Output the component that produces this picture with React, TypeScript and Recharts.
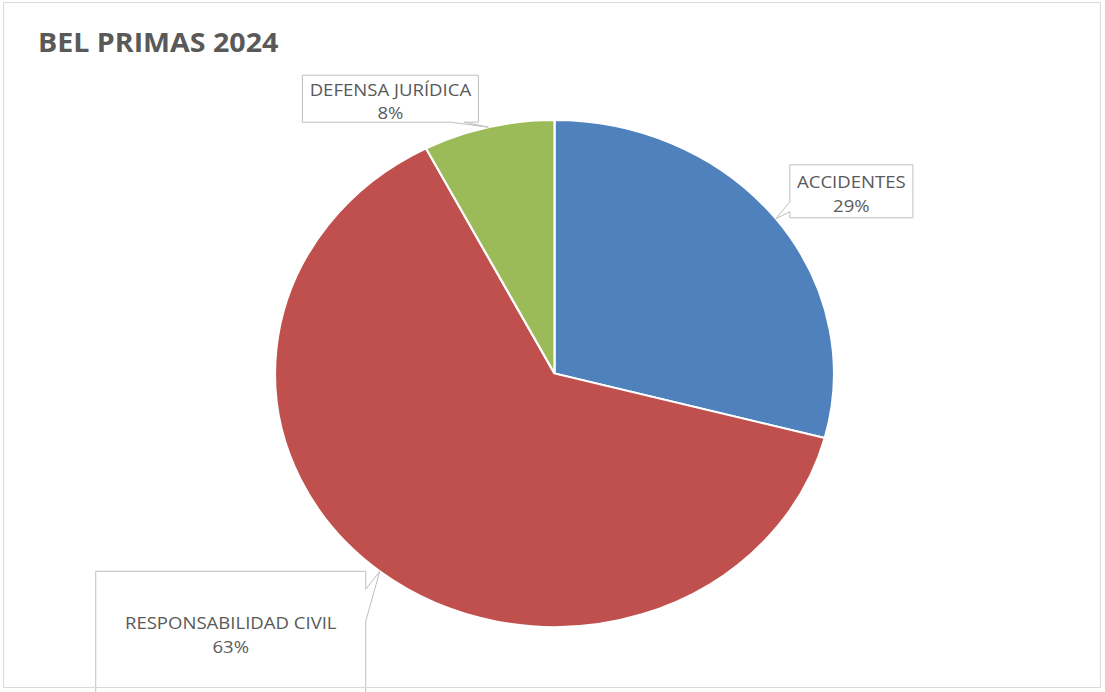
import { Pie, PieChart } from "recharts";

const categories = ["ACCIDENTES", "RESPONSABILIDAD CIVIL", "DEFENSA JURÍDICA"];
const shares = [29.1, 63.3, 7.6];
const sliceColors = ["#4f81bd", "#c0504d", "#9bbb59"];

const rows = categories.map((name, i) => ({ name, value: shares[i], fill: sliceColors[i] }));

const W = 1105;
const H = 692;
const CX = 554.5;
const CY = 373.5;
const R = 253.5;
// the source picture is stretched sideways, so the pie is an ellipse
const STRETCH = 279.5 / 253.5;
const TEXT_STRETCH = 1.16;
const RAD = Math.PI / 180;
const FONT = "'Open Sans', 'DejaVu Sans', sans-serif";

// callout boxes, placed relative to the point where each slice's middle meets the rim
const callouts = [
  { dx: 14, dy: -54, w: 123, h: 53, side: "left" },
  { dx: -284, dy: 0, w: 270, h: 122, side: "right" },
  { dx: -186, dy: -52, w: 176, h: 47, side: "bottom" },
];

function calloutPath(l: number, t: number, w: number, h: number, ax: number, ay: number, side: string) {
  const r = l + w;
  const b = t + h;
  if (side === "left") {
    return `M${l},${t} H${r} V${b} H${l} V${b - 6} L${ax},${ay} L${l},${b - 16} Z`;
  }
  if (side === "right") {
    return `M${l},${t} H${r} V${t + 18} L${ax},${ay} L${r},${t + 50} V${b} H${l} Z`;
  }
  return `M${l},${t} H${r} V${b} H${l + 162} L${ax},${ay} L${l + 148},${b} H${l} Z`;
}

function renderCallout(props: any) {
  const { cx, cy, midAngle, outerRadius, percent, index, name } = props;
  const a = midAngle * RAD;
  const ax = cx + outerRadius * STRETCH * Math.cos(a);
  const ay = cy - outerRadius * Math.sin(a);
  const c = callouts[index];
  const l = ax + c.dx;
  const t = ay + c.dy;
  const mx = l + c.w / 2;
  const my = t + c.h / 2;
  const widen = `translate(${mx},0) scale(${TEXT_STRETCH},1) translate(${-mx},0)`;
  return (
    <g key={`callout-${index}`}>
      <path
        d={calloutPath(l, t, c.w, c.h, ax, ay, c.side)}
        fill="#ffffff"
        stroke="#bfbfbf"
        strokeWidth={1}
      />
      <g transform={widen}>
        <text x={mx} y={my - 3} textAnchor="middle" fontFamily={FONT} fontSize={16} fill="#595959">
          {name}
        </text>
        <text x={mx} y={my + 20.5} textAnchor="middle" fontFamily={FONT} fontSize={16} fill="#595959">
          {`${Math.round(percent * 100)}%`}
        </text>
      </g>
    </g>
  );
}

export default function App() {
  return (
    <div style={{ position: "absolute", left: 0, top: 0, width: W, height: H, background: "#ffffff" }}>
      <style>{`
        .recharts-pie-sector {
          transform-box: view-box;
          transform-origin: ${CX}px ${CY}px;
          transform: scaleX(${STRETCH});
        }
      `}</style>
      <PieChart
        width={W}
        height={H}
        margin={{ top: 0, right: 0, bottom: 0, left: 0 }}
        style={{ position: "absolute", left: 0, top: 0 }}
      >
        <Pie
          data={rows}
          dataKey="value"
          nameKey="name"
          cx={CX}
          cy={CY}
          outerRadius={R}
          startAngle={90}
          endAngle={-270}
          stroke="#ffffff"
          strokeWidth={2}
          label={renderCallout}
          labelLine={false}
          isAnimationActive={false}
        />
      </PieChart>
      <svg
        width={W}
        height={H}
        style={{ position: "absolute", left: 0, top: 0, pointerEvents: "none" }}
      >
        <rect x={3.5} y={2.5} width={1097} height={685} fill="none" stroke="#d9d9d9" strokeWidth={1} />
        <g transform="translate(38,0) scale(1.1,1) translate(-38,0)">
          <text x={38} y={52} fontFamily={FONT} fontWeight={700} fontSize={26} fill="#595959">
            BEL PRIMAS 2024
          </text>
        </g>
      </svg>
    </div>
  );
}
